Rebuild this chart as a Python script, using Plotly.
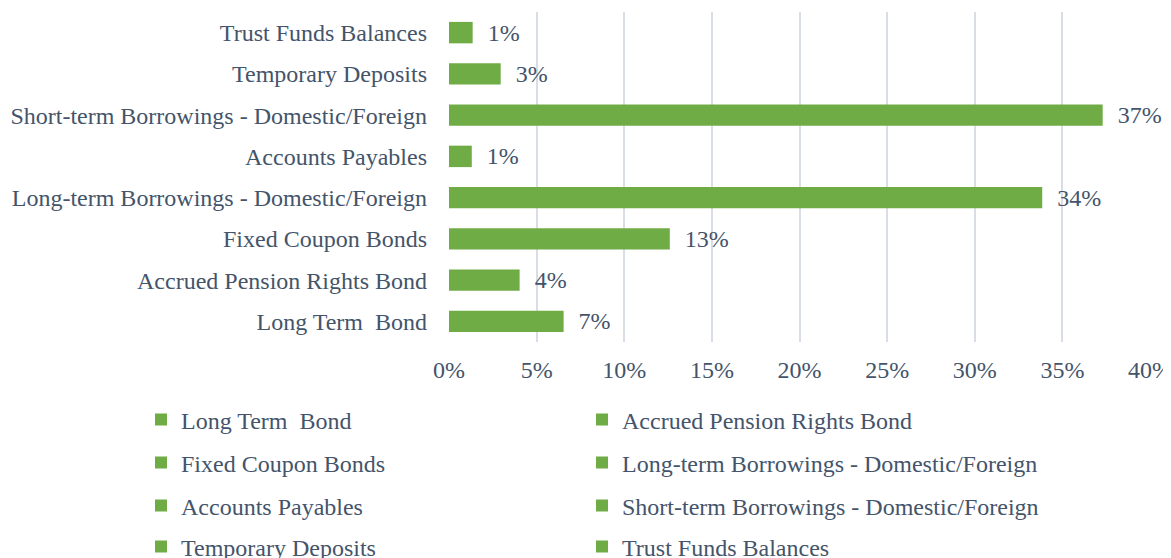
import plotly.graph_objects as go

categories = [
    "Long Term  Bond",
    "Accrued Pension Rights Bond",
    "Fixed Coupon Bonds",
    "Long-term Borrowings - Domestic/Foreign",
    "Accounts Payables",
    "Short-term Borrowings - Domestic/Foreign",
    "Temporary Deposits",
    "Trust Funds Balances",
]
values = [0.0654, 0.0403, 0.126, 0.3385, 0.013, 0.373, 0.0295, 0.0135]
x_ticks = [0, 0.05, 0.10, 0.15, 0.20, 0.25, 0.30, 0.35, 0.40]

GREEN = "#6FAC46"
TEXT = "#44546A"
FONT = "Liberation Serif"
FS = 24

# page body keeps its 8px margin; figure coords = screen coords - 8
W, H = 1171, 558
L, PW, T, PH = 441, 701, 4, 330
row_centers = [412, 455, 498, 539]
col_lefts = [133, 574]

legend_names = ["legend"] + [f"legend{k}" for k in range(2, len(categories) + 1)]

fig = go.Figure()
legend_cfg = {}
for i, (cat, val) in enumerate(zip(categories, values)):
    lg = legend_names[i]
    fig.add_trace(go.Bar(
        x=[val], y=[cat], orientation="h", name=cat,
        legend=lg,
        width=0.52,
        marker=dict(color=GREEN, line=dict(width=0)),
        text=[val], texttemplate="  %{x:.0%}", textposition="outside",
        constraintext="none",
        textfont=dict(family=FONT, size=FS, color=TEXT),
        cliponaxis=False,
    ))
    legend_cfg[lg] = dict(
        x=(col_lefts[i % 2] - L) / PW, xanchor="left",
        y=(T + PH - row_centers[i // 2]) / PH, yanchor="middle",
        font=dict(family=FONT, size=FS, color=TEXT),
        bgcolor="rgba(0,0,0,0)",
    )

fig.update_layout(
    width=W, height=H,
    barmode="overlay",
    paper_bgcolor="white", plot_bgcolor="white",
    margin=dict(l=L, r=W - L - PW, t=T, b=H - T - PH, autoexpand=False),
    font=dict(family=FONT, size=FS, color=TEXT),
    showlegend=True,
    xaxis=dict(
        range=[0, 0.4], tickvals=x_ticks, tickformat=".0%",
        showgrid=True, gridcolor="#D9DEE6", gridwidth=2,
        zeroline=False, showline=False, automargin=False,
        ticks="", ticklabelstandoff=11,
        tickfont=dict(family=FONT, size=FS, color=TEXT),
    ),
    yaxis=dict(
        type="category", categoryorder="array", categoryarray=categories,
        showgrid=False, zeroline=False, showline=False, automargin=False,
        ticks="", ticklabelstandoff=21,
        tickfont=dict(family=FONT, size=FS, color=TEXT),
    ),
    **legend_cfg,
)

fig.write_html(
    "out.html",
    config={"displayModeBar": False},
    post_script="document.documentElement.style.overflow='hidden';document.body.style.overflow='hidden';",
)
